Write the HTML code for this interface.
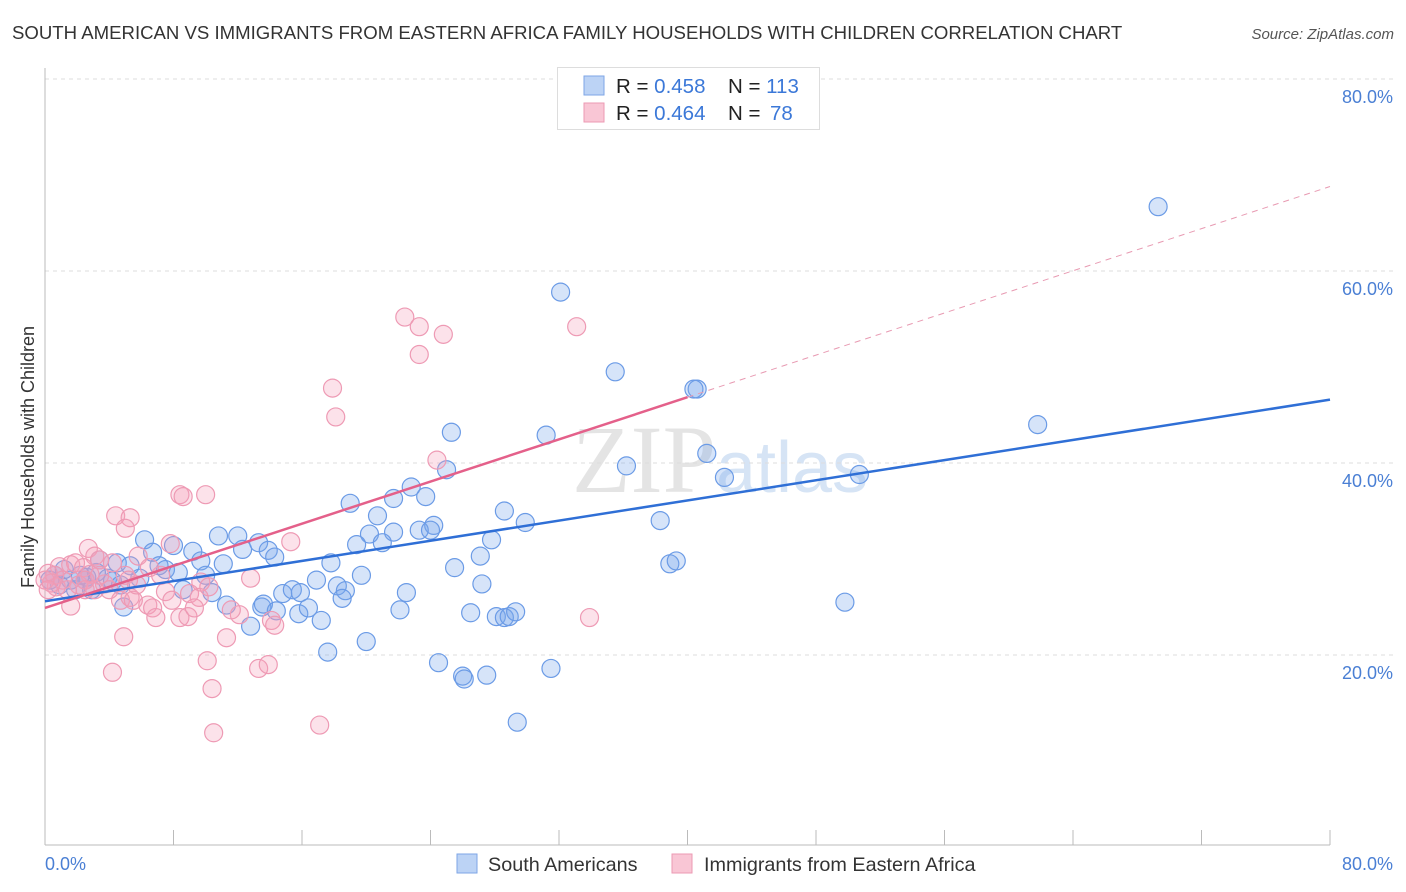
<!DOCTYPE html>
<html><head><meta charset="utf-8"><style>
body{margin:0;background:#fff;width:1406px;height:892px;overflow:hidden;font-family:"Liberation Sans",sans-serif}
svg{position:absolute;left:0;top:0}
</style></head><body>
<svg id="c" width="1406" height="892">
<text x="12" y="39" font-size="18.6" fill="#333">SOUTH AMERICAN VS IMMIGRANTS FROM EASTERN AFRICA FAMILY HOUSEHOLDS WITH CHILDREN CORRELATION CHART</text>
<text x="1394" y="39" font-size="15" fill="#555" font-style="italic" text-anchor="end">Source: ZipAtlas.com</text>
<text x="720" y="492" font-size="96" fill="#e4e4e4" text-anchor="middle" font-family="Liberation Serif,serif">ZIP<tspan font-family="Liberation Sans,sans-serif" font-size="72" fill="#d6e4f5">atlas</tspan></text>
<g id="grid"></g><g id="pts"></g><g id="lines"></g>
<text transform="translate(34,457) rotate(-90)" font-size="18" fill="#333" text-anchor="middle">Family Households with Children</text>
<text x="45" y="870" font-size="18" fill="#4a7fd4">0.0%</text>
<text x="1393" y="870" font-size="18" fill="#4a7fd4" text-anchor="end">80.0%</text>
<g>
<rect x="557.5" y="67.5" width="262" height="62" fill="#fff" stroke="#ddd"/>
<rect x="584" y="76" width="20" height="19" fill="#bcd3f5" stroke="#7ea6e6"/>
<rect x="584" y="103" width="20" height="19" fill="#f9c6d5" stroke="#ec9ab3"/>
<text x="616" y="93" font-size="20.5" fill="#222">R = <tspan fill="#3b78d8">0.458</tspan><tspan x="728">N = </tspan><tspan fill="#3b78d8">113</tspan></text>
<text x="616" y="120" font-size="20.5" fill="#222">R = <tspan fill="#3b78d8">0.464</tspan><tspan x="728">N = </tspan><tspan fill="#3b78d8" x="770">78</tspan></text>
</g>
<g>
<rect x="457" y="854" width="20" height="19" fill="#bcd3f5" stroke="#7ea6e6"/>
<text x="488" y="871" font-size="19.8" fill="#333">South Americans</text></g>
<g>
<rect x="672" y="854" width="20" height="19" fill="#f9c6d5" stroke="#ec9ab3"/>
<text x="704" y="871" font-size="19.8" fill="#333">Immigrants from Eastern Africa</text></g>
</svg>
<script>
const yTicks=[20,40,60,80];
const xTicks=[0,8,16,24,32,40,48,56,64,72,80];
const blueX=[69.3,32.1,35.5,40.6,40.4,61.8,25.3,31.2,41.2,36.2,25.0,42.3,50.7,19.0,21.7,22.8,23.7,20.7,28.6,38.3,29.9,24.2,23.3,24.0,21.7,20.2,21.0,27.8,10.8,12.0,6.2,6.7,8.0,9.2,12.3,13.3,13.9,14.3,19.4,27.1,17.8,25.5,38.9,39.3,4.5,5.3,7.1,7.5,8.3,9.7,11.1,10.0,3.9,3.2,2.6,1.6,0.6,0.9,1.9,2.5,4.2,4.7,5.9,8.6,10.4,11.3,13.5,14.8,15.4,15.9,16.9,18.2,19.7,18.7,18.5,22.5,27.2,4.9,13.6,14.4,15.8,16.4,17.2,22.1,26.5,28.1,28.6,28.9,29.3,49.8,12.8,20.0,17.6,24.5,26.0,26.1,27.5,31.5,29.4,1.2,2.2,0.3,2.9,3.4];
const blueY=[66.7,57.8,49.5,47.7,47.7,44.0,43.2,42.9,41.0,39.7,39.3,38.5,38.8,35.8,36.3,37.5,36.5,34.5,35.0,34.0,33.8,33.5,33.0,33.0,32.8,32.6,31.7,32.0,32.4,32.4,32.0,30.7,31.4,30.8,31.0,31.7,30.9,30.2,31.5,30.3,29.6,29.1,29.5,29.8,29.6,29.3,29.3,28.9,28.6,29.8,29.5,28.3,28.0,28.6,28.1,27.8,28.3,27.3,26.8,27.8,27.7,27.3,28.0,26.8,26.5,25.2,25.0,26.4,26.8,26.5,27.8,27.2,28.3,26.7,25.9,26.5,27.4,25.0,25.3,24.6,24.3,24.9,23.6,24.7,24.4,24.0,23.9,24.0,24.5,25.5,23.0,21.4,20.3,19.2,17.8,17.5,17.9,18.6,13.0,28.9,28.3,27.8,26.8,29.9];
const pinkX=[22.4,23.3,24.8,33.1,23.3,17.9,18.1,24.4,8.4,8.6,10.0,4.4,5.3,5.0,15.3,2.7,7.8,3.1,3.4,5.8,4.2,0.9,1.6,1.9,0.6,0.2,1.1,2.4,2.8,3.7,2.1,2.5,5.0,7.2,6.5,9.7,12.8,4.7,5.3,6.4,6.7,6.9,8.4,8.9,7.5,9.0,9.6,10.2,1.6,5.5,0.7,0.4,3.1,4.9,14.1,14.3,11.3,33.9,10.1,13.3,13.9,4.2,10.4,10.5,17.1,5.2,4.0,0.0,0.2,1.4,2.5,3.4,5.7,7.9,9.3,12.1,11.6];
const pinkY=[55.2,54.2,53.4,54.2,51.3,47.8,44.8,40.3,36.7,36.5,36.7,34.5,34.3,33.2,31.8,31.1,31.6,30.3,29.9,30.3,29.6,29.2,29.4,29.6,28.3,28.5,27.8,29.1,28.4,27.4,27.3,27.8,28.3,28.3,29.1,27.6,28.0,25.7,26.0,25.2,24.9,23.9,23.9,24.0,26.6,26.4,26.0,27.1,25.1,25.7,27.1,27.5,26.8,21.9,23.6,23.1,21.8,23.9,19.4,18.6,19.0,18.2,16.5,11.9,12.7,27.8,26.8,27.8,26.8,26.8,26.8,28.3,27.3,25.7,24.9,24.2,24.7];
const blueTrend=[25.6,46.6];
const pinkTrend=[24.9,68.8];
const pinkSolidEnd=40;
const NS='http://www.w3.org/2000/svg';
const sx=v=>45+v/80*1285, sy=v=>847-v*9.6;
function mk(tag,attrs,parent){const e=document.createElementNS(NS,tag);for(const k in attrs)e.setAttribute(k,attrs[k]);parent.appendChild(e);return e;}
const grid=document.getElementById('grid');
yTicks.forEach(t=>{
 const l=mk('line',{x1:45,x2:1393,y1:sy(t),y2:sy(t),stroke:'#ddd','stroke-dasharray':'4,4'},grid);
 
 
 const tx=mk('text',{x:1393,y:sy(t)+24,'font-size':18,fill:'#4a7fd4','text-anchor':'end'},grid);
 tx.textContent=t.toFixed(1)+'%';
 
 
});
const ax=mk('line',{x1:45,x2:1330,y1:845,y2:845,stroke:'#bbb'},grid);


const ay=mk('line',{x1:45,x2:45,y1:68,y2:845,stroke:'#bbb'},grid);


xTicks.forEach(t=>{
 const l=mk('line',{x1:sx(t),x2:sx(t),y1:830,y2:845,stroke:'#bbb'},grid);
 
 
});
const pts=document.getElementById('pts');
blueX.forEach((x,i)=>{
 const c=mk('circle',{cx:sx(x),cy:sy(blueY[i]),r:9,fill:'rgba(120,165,235,0.3)',stroke:'#6b9be6','stroke-width':1.2},pts);
 
 
});
pinkX.forEach((x,i)=>{
 const c=mk('circle',{cx:sx(x),cy:sy(pinkY[i]),r:9,fill:'rgba(245,160,185,0.3)',stroke:'#ee9ab4','stroke-width':1.2},pts);
 
 
});
const lines=document.getElementById('lines');
const b=mk('line',{x1:sx(0),y1:sy(blueTrend[0]),x2:sx(80),y2:sy(blueTrend[1]),stroke:'#2f6fd6','stroke-width':2.5},lines);


const pm=pinkTrend[0]+(pinkTrend[1]-pinkTrend[0])*pinkSolidEnd/80;
const p1=mk('line',{x1:sx(0),y1:sy(pinkTrend[0]),x2:sx(pinkSolidEnd),y2:sy(pm),stroke:'#e4608a','stroke-width':2.5},lines);


const p2=mk('line',{x1:sx(pinkSolidEnd),y1:sy(pm),x2:sx(80),y2:sy(pinkTrend[1]),stroke:'#e89ab2','stroke-width':1,'stroke-dasharray':'6,5'},lines);


</script>
</body></html>
